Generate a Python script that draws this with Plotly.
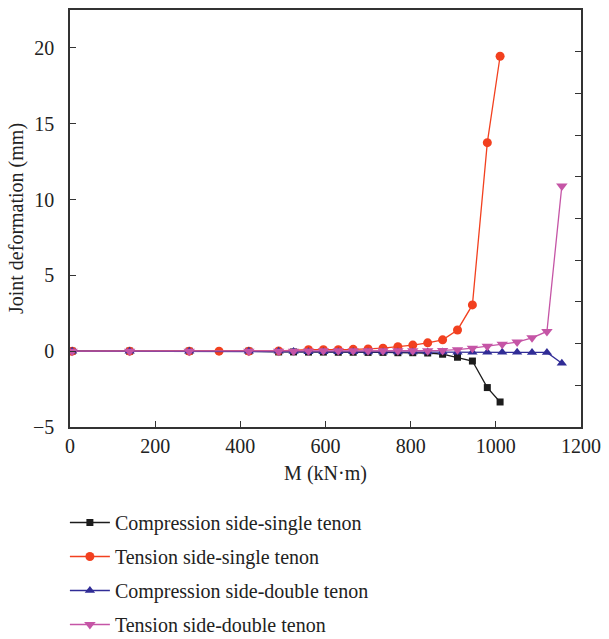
import plotly.graph_objects as go

# Data
x_cs = [5, 140, 280, 420, 490, 525, 560, 595, 630, 665, 700, 735, 770, 805, 840, 875, 910, 945, 980, 1010]
y_cs = [0, 0, 0, 0, -0.05, -0.05, -0.06, -0.06, -0.07, -0.07, -0.08, -0.08, -0.1, -0.1, -0.12, -0.2, -0.4, -0.65, -2.4, -3.35]

x_ts = [5, 140, 280, 350, 420, 490, 560, 595, 630, 665, 700, 735, 770, 805, 840, 875, 910, 945, 980, 1010]
y_ts = [0, 0, 0, 0, 0, 0.02, 0.1, 0.1, 0.1, 0.12, 0.15, 0.2, 0.3, 0.4, 0.55, 0.75, 1.4, 3.05, 13.75, 19.45]

x_cd = [5, 140, 280, 420, 490, 525, 560, 595, 630, 665, 700, 735, 770, 805, 840, 875, 910, 945, 980, 1015, 1050, 1085, 1120, 1155]
y_cd = [0, 0, 0, 0, 0, -0.02, -0.03, -0.03, -0.04, -0.04, -0.05, -0.05, -0.05, -0.05, -0.06, -0.06, -0.07, -0.07, -0.07, -0.07, -0.07, -0.08, -0.08, -0.8]

x_td = [5, 140, 280, 420, 490, 525, 560, 595, 630, 665, 700, 735, 770, 805, 840, 875, 910, 945, 980, 1015, 1050, 1085, 1120, 1155]
y_td = [0, 0, 0, 0, 0, 0, 0.02, 0.03, 0.03, 0.03, 0.03, 0.03, 0.03, 0.03, 0.03, 0.05, 0.1, 0.2, 0.33, 0.45, 0.6, 0.88, 1.3, 10.9]

names = ["Compression side-single tenon", "Tension side-single tenon",
         "Compression side-double tenon", "Tension side-double tenon"]
colors = ["#1c1c1c", "#f2401f", "#302c96", "#c555a6"]
symbols = ["square", "circle", "triangle-up", "triangle-down"]
sizes = [7, 9, 9, 10]

x_ticks = [0, 200, 400, 600, 800, 1000, 1200]
y_ticks = [-5, 0, 5, 10, 15, 20]

FONT = "Liberation Serif"

fig = go.Figure()
series = [(x_cs, y_cs), (x_ts, y_ts), (x_cd, y_cd), (x_td, y_td)]
for i, (xs, ys) in enumerate(series):
    fig.add_trace(go.Scatter(
        x=xs, y=ys, mode="lines+markers", name=names[i],
        line=dict(color=colors[i], width=1.3),
        marker=dict(symbol=symbols[i], size=sizes[i], color=colors[i], line=dict(width=0)),
        legendgroup=f"g{i}",
    ))

# invisible trace to hold the right-side tick axis
fig.add_trace(go.Scatter(x=[0], y=[0], yaxis="y2", showlegend=False,
                         mode="markers", marker=dict(opacity=0), hoverinfo="skip"))

axis_line = dict(showline=True, linecolor="#333333", linewidth=1.5, showgrid=False, zeroline=False)

fig.update_layout(
    width=609, height=639,
    margin=dict(l=70, r=20, t=8, b=212),
    plot_bgcolor="white", paper_bgcolor="white",
    font=dict(family=FONT, size=20, color="#222222"),
    xaxis=dict(range=[0, 1200], tickvals=x_ticks, ticks="inside", ticklen=6, tickwidth=1.2,
               tickcolor="#333333", mirror=True, ticklabelstandoff=0,
               title=dict(text="M (kN·m)", font=dict(size=20), standoff=10), **axis_line),
    yaxis=dict(range=[-5, 22.5], tickvals=y_ticks, ticks="inside", ticklen=6, tickwidth=1.2,
               tickcolor="#333333", mirror=True, ticklabelstandoff=10,
               title=dict(text="Joint deformation (mm)", font=dict(size=20), standoff=4), **axis_line),
    yaxis2=dict(overlaying="y", side="right", range=[0, 10], dtick=1, ticks="inside",
                ticklen=6, tickwidth=1.2, tickcolor="#333333", showticklabels=False,
                showgrid=False, zeroline=False, showline=False),
    showlegend=True,
    legend=dict(x=-0.01, xanchor="left", y=1 - 503 / 639, yanchor="top",
                xref="paper", yref="container", itemwidth=40,
                tracegroupgap=5, font=dict(size=20, family=FONT, color="#222222"),
                bgcolor="rgba(0,0,0,0)"),
)

fig.write_html("out.html")
